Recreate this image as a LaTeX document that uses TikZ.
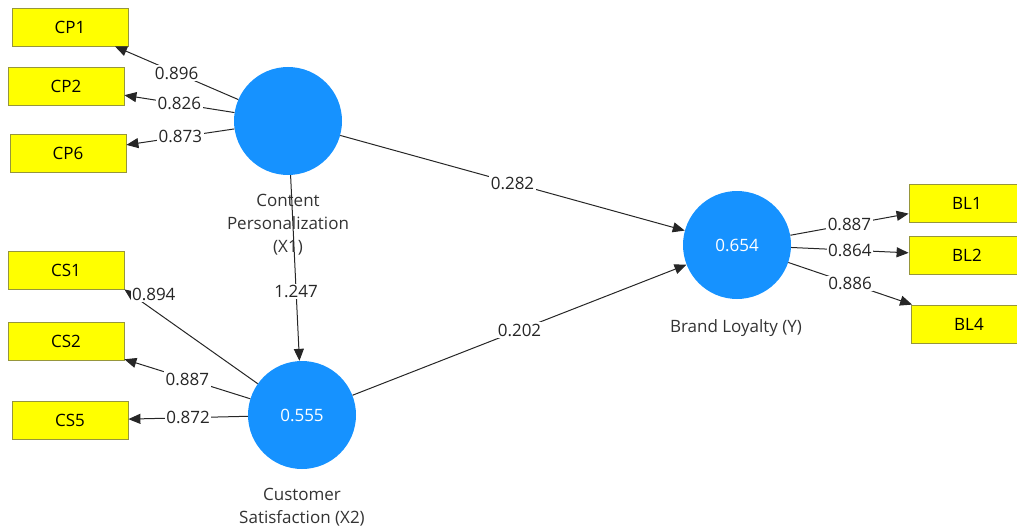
\documentclass[tikz,border=0pt]{standalone}
\usepackage{fontspec}
\setmainfont{Open Sans}
\usetikzlibrary{arrows.meta}
\definecolor{lvblue}{RGB}{22,146,255}
\definecolor{indyellow}{RGB}{255,255,0}
\definecolor{indborder}{RGB}{150,150,60}
\newcommand{\lblfont}{\fontsize{17}{23}\selectfont}
\begin{document}
\begin{tikzpicture}[x=1pt,y=-1pt,
  lv/.style={circle,fill=lvblue,minimum size=108pt,inner sep=0pt,text=white,font=\lblfont},
  ind/.style={draw=indborder,line width=0.8pt,fill=indyellow,minimum width=116pt,minimum height=38pt,inner sep=0pt,font=\lblfont},
  conn/.style={draw=black!85,line width=1pt,-{Triangle[length=12pt,width=10pt]}},
  wt/.style={fill=white,inner sep=1.5pt,font=\lblfont,text=black!85},
  lvcaption/.style={align=center,font=\lblfont,text=black!80}]
\useasboundingbox (0,0) rectangle (1017,532);
\clip (0,0) rectangle (1017,532);
% latent variables
\node[lv] (CP) at (288,121) {};
\node[lv] (CS) at (302,415) {0.555};
\node[lv] (BL) at (737,245) {0.654};
% captions
\node[lvcaption] (CPcap) at (288,225) {Content\\Personalization\\(X1)};
\node[lvcaption] (CScap) at (302,507) {Customer\\Satisfaction (X2)};
\node[lvcaption] (BLcap) at (736,328) {Brand Loyalty (Y)};
% indicators
\node[ind] (CP1) at (70,27) {CP1};
\node[ind] (CP2) at (66,86) {CP2};
\node[ind] (CP6) at (68,153.5) {CP6};
\node[ind] (CS1) at (66,270) {CS1};
\node[ind] (CS2) at (66,341) {CS2};
\node[ind] (CS5) at (70,420.5) {CS5};
\node[ind] (BL1) at (967,203) {BL1};
\node[ind] (BL2) at (967,255.5) {BL2};
\node[ind] (BL4) at (969,324) {BL4};
% outer loadings
\draw[conn] (CP) -- node[wt]{0.896} (CP1);
\draw[conn] (CP) -- node[wt]{0.826} (CP2);
\draw[conn] (CP) -- node[wt]{0.873} (CP6);
\draw[conn] (CS) -- node[wt,pos=0.78,yshift=16pt]{0.894} (CS1.south east);
\draw[conn] (CS) -- node[wt]{0.887} (CS2);
\draw[conn] (CS) -- node[wt]{0.872} (CS5);
\draw[conn] (BL) -- node[wt]{0.887} (BL1);
\draw[conn] (BL) -- node[wt]{0.864} (BL2);
\draw[conn] (BL) -- node[wt]{0.886} (BL4);
% structural paths
\draw[conn] (CP) -- node[wt,pos=0.626]{1.247} (CS);
\draw[conn] (CP) -- node[wt]{0.282} (BL);
\draw[conn] (CS) -- node[wt]{0.202} (BL);
\end{tikzpicture}
\end{document}
